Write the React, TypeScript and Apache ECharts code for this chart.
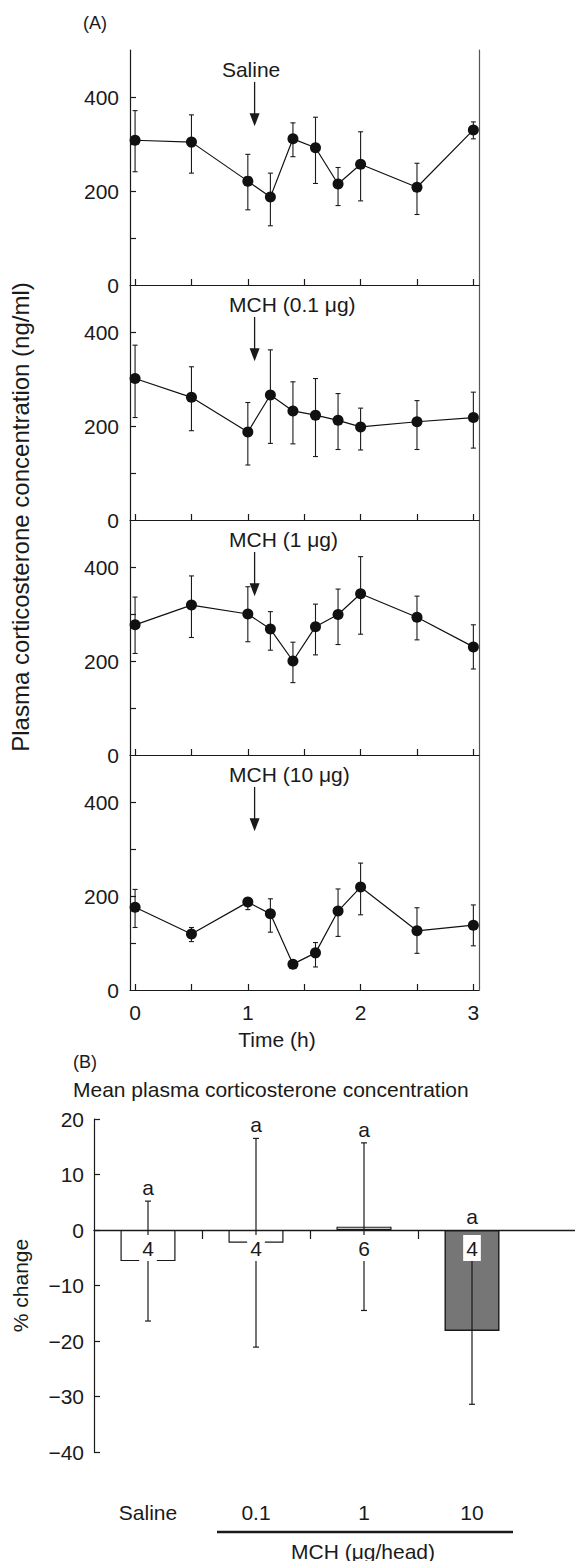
import React, { useEffect, useRef } from "react";
import * as echarts from "echarts";

// ---------- Data ----------
const timesA = [0, 0.5, 1, 1.2, 1.4, 1.6, 1.8, 2, 2.5, 3];

const salineMean = [308, 304, 221, 187, 311, 292, 215, 257, 208, 330];
const salineLo = [241, 238, 160, 126, 273, 216, 169, 179, 150, 311];
const salineHi = [371, 362, 278, 238, 345, 357, 250, 326, 259, 347];

const mch01Mean = [301, 261, 187, 266, 232, 223, 212, 198, 209, 218];
const mch01Lo = [218, 190, 117, 163, 162, 135, 150, 149, 150, 153];
const mch01Hi = [372, 326, 250, 362, 294, 301, 269, 238, 254, 272];

const mch1Mean = [277, 319, 300, 268, 200, 273, 299, 343, 293, 230];
const mch1Lo = [216, 250, 241, 223, 154, 213, 235, 257, 245, 183];
const mch1Hi = [336, 381, 358, 305, 240, 321, 353, 422, 338, 277];

const mch10Mean = [176, 119, 187, 162, 55, 79, 168, 219, 126, 138];
const mch10Lo = [133, 103, 171, 123, 55, 49, 114, 160, 78, 94];
const mch10Hi = [214, 133, 196, 194, 55, 101, 215, 270, 175, 181];

const panelLabels = ["Saline", "MCH (0.1 μg)", "MCH (1 μg)", "MCH (10 μg)"];
const injectionTime = 1.06;
const xTicksA = [0, 0.5, 1, 1.5, 2, 2.5, 3];
const xLabelsA = [0, 1, 2, 3];
const yTicksA = [100, 200, 300, 400];
const yLabelsA = [0, 200, 400];

const categoriesB = ["Saline", "0.1", "1", "10"];
const meanB = [-5.6, -2.3, 0.6, -18.2];
const seB = [10.8, 18.8, 15.1, 13.2];
const nB = ["4", "4", "6", "4"];
const sigB = ["a", "a", "a", "a"];

// ---------- Styles ----------
const FONT = "'Liberation Sans', Arial, Helvetica, sans-serif";
const INK = "#1a1a1a";
const FS = 21;

const panels = [
  { mean: salineMean, lo: salineLo, hi: salineHi },
  { mean: mch01Mean, lo: mch01Lo, hi: mch01Hi },
  { mean: mch1Mean, lo: mch1Lo, hi: mch1Hi },
  { mean: mch10Mean, lo: mch10Lo, hi: mch10Hi },
];
const panelTops = [50, 285, 520, 755];
const panelH = 235;

export default function App() {
  const ref = useRef<HTMLDivElement>(null);
  useEffect(() => {
    if (!ref.current) return;
    const chart = echarts.init(ref.current, null, { renderer: "svg" });

    const grids: any[] = [];
    const xAxes: any[] = [];
    const yAxes: any[] = [];
    const series: any[] = [];
    const axisLineStyle = { color: INK, width: 1.2 };

    panels.forEach((p, i) => {
      grids.push({ left: 130, top: panelTops[i], width: 349, height: panelH, outerBoundsMode: "none", containLabel: false });
      xAxes.push({
        type: "value",
        gridIndex: i,
        min: -0.045,
        max: 3.05,
        axisLine: { show: true, onZero: false, lineStyle: axisLineStyle },
        axisTick: { show: true, inside: true, length: 6, customValues: xTicksA, lineStyle: axisLineStyle },
        axisLabel: {
          show: i === 3,
          customValues: xLabelsA,
          margin: 12,
          fontSize: FS,
          fontFamily: FONT,
          color: INK,
        },
        splitLine: { show: false },
      });
    });
    panels.forEach((p, i) => {
      yAxes.push({
        type: "value",
        gridIndex: i,
        min: 0,
        max: 500,
        interval: 100,
        axisLine: { show: true, onZero: false, lineStyle: axisLineStyle },
        axisTick: { show: true, inside: true, length: 6, customValues: yTicksA, lineStyle: axisLineStyle },
        axisLabel: { customValues: yLabelsA, margin: 11, fontSize: FS, fontFamily: FONT, color: INK },
        splitLine: { show: false },
      });
    });
    panels.forEach((p, i) => {
      yAxes.push({
        type: "value",
        gridIndex: i,
        position: "right",
        min: 0,
        max: 500,
        axisLine: { show: true, onZero: false, lineStyle: { color: "#555", width: 1.2 } },
        axisTick: { show: false },
        axisLabel: { show: false },
        splitLine: { show: false },
      });
    });

    panels.forEach((p, i) => {
      series.push({
        type: "custom",
        xAxisIndex: i,
        yAxisIndex: i,
        z: 2,
        data: timesA.map((t, k) => [t, p.lo[k], p.hi[k]]),
        renderItem: (params: any, api: any) => {
          const a = api.coord([api.value(0), api.value(1)]);
          const b = api.coord([api.value(0), api.value(2)]);
          const w = 2.5;
          const st = { stroke: INK, lineWidth: 1.1 };
          return {
            type: "group",
            children: [
              { type: "line", shape: { x1: a[0], y1: a[1], x2: b[0], y2: b[1] }, style: st },
              { type: "line", shape: { x1: a[0] - w, y1: a[1], x2: a[0] + w, y2: a[1] }, style: st },
              { type: "line", shape: { x1: b[0] - w, y1: b[1], x2: b[0] + w, y2: b[1] }, style: st },
            ],
          };
        },
      });
      series.push({
        type: "line",
        xAxisIndex: i,
        yAxisIndex: i,
        z: 3,
        data: timesA.map((t, k) => [t, p.mean[k]]),
        symbol: "circle",
        symbolSize: 11,
        itemStyle: { color: "#111" },
        lineStyle: { color: "#111", width: 1.2 },
      });
      series.push({
        type: "custom",
        xAxisIndex: i,
        yAxisIndex: i,
        z: 4,
        data: [[injectionTime, 432, 338, i === 0 ? 0.77 : 0.834, 458]],
        renderItem: (params: any, api: any) => {
          const top = api.coord([api.value(0), api.value(1)]);
          const bot = api.coord([api.value(0), api.value(2)]);
          const txt = api.coord([api.value(3), api.value(4)]);
          const head = 13;
          return {
            type: "group",
            children: [
              {
                type: "line",
                shape: { x1: top[0], y1: top[1], x2: bot[0], y2: bot[1] - head + 1 },
                style: { stroke: INK, lineWidth: 1.3 },
              },
              {
                type: "polygon",
                shape: {
                  points: [
                    [bot[0] - 5, bot[1] - head],
                    [bot[0] + 5, bot[1] - head],
                    [bot[0], bot[1]],
                  ],
                },
                style: { fill: INK },
              },
              {
                type: "text",
                style: {
                  text: panelLabels[i],
                  x: txt[0],
                  y: txt[1],
                  align: "left",
                  verticalAlign: "middle",
                  fontSize: FS,
                  fontFamily: FONT,
                  fill: INK,
                },
              },
            ],
          };
        },
      });
    });

    // ---------- Panel B ----------
    grids.push({ left: 94, top: 1119, width: 481, height: 333, outerBoundsMode: "none", containLabel: false });
    const bMin = -0.5;
    const bMax = -0.5 + 481 / 108;
    xAxes.push({
      type: "value",
      gridIndex: 4,
      min: bMin,
      max: bMax,
      axisLine: { show: true, onZero: true, onZeroAxisIndex: 8, lineStyle: { color: INK, width: 1.4 } },
      axisTick: { show: true, inside: false, length: 9, customValues: [0.5, 1.5, 2.5], lineStyle: axisLineStyle },
      axisLabel: { show: false },
      splitLine: { show: false },
    });
    xAxes.push({
      type: "value",
      gridIndex: 4,
      position: "bottom",
      min: bMin,
      max: bMax,
      axisLine: { show: false, onZero: false },
      axisTick: { show: false },
      axisLabel: {
        customValues: [0, 1, 2, 3],
        formatter: (v: number) => categoriesB[Math.round(v)] ?? "",
        margin: 50,
        fontSize: FS,
        fontFamily: FONT,
        color: INK,
      },
      splitLine: { show: false },
    });
    yAxes.push({
      type: "value",
      gridIndex: 4,
      min: -40,
      max: 20,
      interval: 10,
      axisLine: { show: true, onZero: false, lineStyle: axisLineStyle },
      axisTick: { show: true, inside: true, length: 6, lineStyle: axisLineStyle },
      axisLabel: {
        margin: 10,
        fontSize: FS,
        fontFamily: FONT,
        color: INK,
        formatter: (v: number) => String(v).replace("-", "−"),
      },
      splitLine: { show: false },
      name: "% change",
      nameLocation: "middle",
      nameGap: 63,
      nameRotate: 90,
      nameTextStyle: { fontSize: FS, fontFamily: FONT, color: INK },
    });

    const barStyles = [
      { color: "#ffffff", borderColor: INK, borderWidth: 1.2 },
      { color: "#ffffff", borderColor: INK, borderWidth: 1.2 },
      { color: "#ffffff", borderColor: INK, borderWidth: 1.2 },
      { color: "#767676", borderColor: INK, borderWidth: 1.4 },
    ];
    series.push({
      type: "bar",
      xAxisIndex: 4,
      yAxisIndex: 8,
      barWidth: 55,
      z: 2,
      data: meanB.map((v, i) => ({ value: [i, v], itemStyle: barStyles[i] })),
    });
    series.push({
      type: "custom",
      xAxisIndex: 4,
      yAxisIndex: 8,
      z: 5,
      data: meanB.map((v, i) => [i, v, seB[i]]),
      renderItem: (params: any, api: any) => {
        const x = api.value(0);
        const m = api.value(1);
        const s = api.value(2);
        const top = api.coord([x, m + s]);
        const bot = api.coord([x, m - s]);
        const zero = api.coord([x, 0]);
        const aPos = api.coord([x, Math.max(m + s, 0)]);
        const w = 3;
        const st = { stroke: INK, lineWidth: 1.2 };
        const idx = params.dataIndex;
        return {
          type: "group",
          children: [
            { type: "line", shape: { x1: top[0], y1: top[1], x2: bot[0], y2: bot[1] }, style: st },
            { type: "line", shape: { x1: top[0] - w, y1: top[1], x2: top[0] + w, y2: top[1] }, style: st },
            { type: "line", shape: { x1: bot[0] - w, y1: bot[1], x2: bot[0] + w, y2: bot[1] }, style: st },
            {
              type: "text",
              style: {
                text: sigB[idx],
                x: aPos[0],
                y: aPos[1] - 3,
                align: "center",
                verticalAlign: "bottom",
                fontSize: FS,
                fontFamily: FONT,
                fill: INK,
              },
            },
            {
              type: "text",
              style: {
                text: nB[idx],
                x: zero[0],
                y: zero[1] + 18,
                align: "center",
                verticalAlign: "middle",
                fontSize: FS,
                fontFamily: FONT,
                fill: INK,
                backgroundColor: "#ffffff",
                padding: [3, 3, 2, 3],
              },
            },
          ],
        };
      },
    });

    const graphic: any[] = [
      { type: "text", x: 83, y: 23, style: { text: "(A)", verticalAlign: "middle", fontSize: 18, fontFamily: FONT, fill: INK } },
      {
        type: "text",
        x: 20,
        y: 517,
        rotation: Math.PI / 2,
        style: {
          text: "Plasma corticosterone concentration (ng/ml)",
          align: "center",
          verticalAlign: "middle",
          fontSize: 24,
          fontFamily: FONT,
          fill: INK,
        },
      },
      {
        type: "text",
        x: 277,
        y: 1039,
        style: { text: "Time (h)", align: "center", verticalAlign: "middle", fontSize: FS, fontFamily: FONT, fill: INK },
      },
      { type: "text", x: 73, y: 1062, style: { text: "(B)", verticalAlign: "middle", fontSize: 18, fontFamily: FONT, fill: INK } },
      {
        type: "text",
        x: 73,
        y: 1089,
        style: {
          text: "Mean plasma corticosterone concentration",
          verticalAlign: "middle",
          fontSize: FS,
          fontFamily: FONT,
          fill: INK,
        },
      },
      {
        type: "line",
        shape: { x1: 217, y1: 1532, x2: 513, y2: 1532 },
        style: { stroke: INK, lineWidth: 2.5 },
      },
      {
        type: "text",
        x: 363,
        y: 1551,
        style: { text: "MCH (μg/head)", align: "center", verticalAlign: "middle", fontSize: FS, fontFamily: FONT, fill: INK },
      },
    ];

    chart.setOption({
      animation: false,
      backgroundColor: "#ffffff",
      textStyle: { fontFamily: FONT },
      grid: grids,
      xAxis: xAxes,
      yAxis: yAxes,
      series,
      graphic,
    });
    return () => chart.dispose();
  }, []);

  return (
    <div
      ref={ref}
      style={{ position: "absolute", left: 0, top: 0, width: 575, height: 1561 }}
    />
  );
}
